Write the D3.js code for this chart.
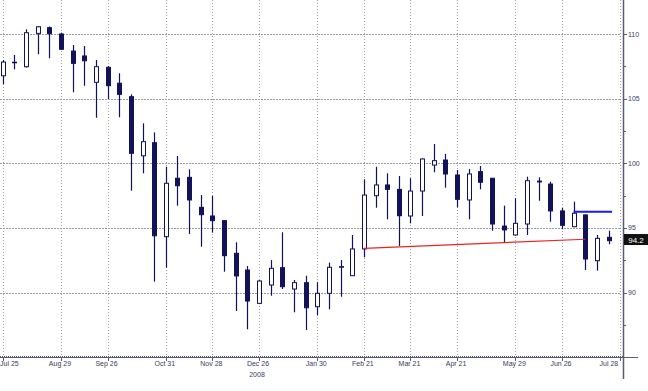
<!DOCTYPE html>
<html><head><meta charset="utf-8">
<script src="https://cdn.jsdelivr.net/npm/d3@7"></script>
<style>body{margin:0;background:#fff}svg{display:block}</style>
</head><body><svg id="c" width="648" height="391"></svg>
<script>
const opens  = [106.77,107.80,107.47,110.05,110.49,110.00,108.68,108.30,106.26,107.42,106.19,105.15,100.58,101.59,94.32,98.84,98.91,96.59,95.92,95.56,93.03,91.74,89.16,90.58,91.92,90.27,90.76,88.90,89.94,91.98,91.30,93.37,97.49,98.32,97.98,95.92,97.85,99.86,100.25,99.09,97.16,99.35,98.84,95.14,94.45,95.30,98.62,98.39,96.31,95.09,96.00,92.46,94.27];
const highs  = [107.99,108.38,110.36,110.62,110.58,110.10,109.15,109.07,107.99,107.52,106.96,105.33,103.09,102.39,99.73,100.56,99.53,97.54,97.47,95.60,93.88,92.05,90.97,92.51,94.66,90.97,91.30,90.79,92.31,92.51,94.45,98.76,99.73,99.22,99.01,98.84,100.38,101.49,100.72,99.48,99.56,99.79,98.86,96.72,97.29,98.96,98.91,98.57,96.54,97.03,96.05,94.45,94.78];
const lows   = [106.11,107.27,107.40,108.43,108.12,108.76,105.49,106.00,103.52,104.97,103.56,97.88,99.22,90.84,91.92,96.72,94.53,93.54,94.63,91.61,88.57,87.15,89.10,89.75,90.27,88.47,87.10,88.26,88.70,89.67,91.30,92.72,96.56,95.66,93.60,95.35,95.92,99.30,98.11,96.59,95.66,97.98,94.78,93.88,94.40,94.45,97.10,95.48,94.89,95.05,91.74,91.69,93.73];
const closes = [107.83,107.82,110.10,110.56,110.02,108.82,107.73,107.93,107.47,106.00,105.33,100.77,101.67,94.39,98.45,98.26,97.16,96.02,95.56,92.85,91.28,89.34,90.89,91.87,90.45,90.76,88.82,89.94,91.95,92.00,93.37,97.54,98.32,97.98,95.94,97.85,100.33,100.20,99.17,97.21,99.17,98.53,95.30,94.84,95.35,98.65,98.55,96.31,95.20,96.13,92.59,94.19,94.01];
const xTickLabels = ["Jul 25","Aug 29","Sep 26","Oct 31","Nov 28","Dec 26","Jan 30","Feb 21","Mar 21","Apr 21","May 29","Jun 26","Jul 28"];
const xTickIndex  = [0,5,9,14,18,22,27,31,35,39,44,48,53];
const yTicks = [90,95,100,105,110];
const yMinorTicks = [87.5,92.5,97.5,102.5,107.5];
const yearLabel = "2008";
const supportLine = [[31,93.42],[50,94.12]];
const resistLine = [[49,96.25],[52.3,96.25]];
const lastPrice = 94.06, lastLabel = "94.2";

const svg = d3.select("#c");
const x = d3.scaleLinear().domain([0,53]).range([2.7,620.2]);
const y = d3.scaleLinear().domain([90,110]).range([292.5,34]);
const axisX = 623, baseY = 357;
const navy = "#12125a", grey = "#9a9aa6", axisCol = "#5a5a78", txt = "#3a3a60";

// horizontal grid
svg.append("g").selectAll("line").data(yTicks).join("line")
  .attr("x1",0).attr("x2",axisX-2).attr("y1",d=>Math.round(y(d))+0.5).attr("y2",d=>Math.round(y(d))+0.5)
  .attr("stroke",grey).attr("stroke-width",1).attr("stroke-dasharray","2,1");
// vertical grid
svg.append("g").selectAll("line").data(xTickIndex).join("line")
  .attr("x1",d=>Math.round(x(d))+0.5).attr("x2",d=>Math.round(x(d))+0.5).attr("y1",0).attr("y2",baseY)
  .attr("stroke",grey).attr("stroke-width",1).attr("stroke-dasharray","1,2");

// bottom axis
svg.append("line").attr("x1",0).attr("x2",axisX+15).attr("y1",baseY+0.5).attr("y2",baseY+0.5)
  .attr("stroke",axisCol).attr("stroke-width",1);
svg.append("line").attr("x1",0).attr("x2",axisX).attr("y1",baseY-0.5).attr("y2",baseY-0.5)
  .attr("stroke",axisCol).attr("stroke-width",1).attr("stroke-dasharray","1,1");
svg.append("g").selectAll("line").data(xTickIndex).join("line")
  .attr("x1",d=>Math.round(x(d))+0.5).attr("x2",d=>Math.round(x(d))+0.5).attr("y1",baseY).attr("y2",baseY+4)
  .attr("stroke",axisCol);
svg.append("g").selectAll("text").data(xTickIndex).join("text")
  .attr("x",(d,i)=> i===0 ? 0 : (i===xTickIndex.length-1 ? x(d)-2 : x(d)-1))
  .attr("y",baseY+9)
  .attr("text-anchor",(d,i)=> i===0 ? "start" : (i===xTickIndex.length-1 ? "end" : "middle"))
  .attr("font-family","Liberation Sans, Arial, sans-serif").attr("font-size",7).attr("fill",txt)
  .text((d,i)=>xTickLabels[i]);
svg.append("text").attr("x",x(22)-2).attr("y",baseY+20).attr("text-anchor","middle")
  .attr("font-family","Liberation Sans, Arial, sans-serif").attr("font-size",7).attr("fill",txt).text(yearLabel);

// right axis
svg.append("line").attr("x1",axisX+0.5).attr("x2",axisX+0.5).attr("y1",0).attr("y2",379)
  .attr("stroke",axisCol).attr("stroke-width",1.5);
svg.append("g").selectAll("line").data(yTicks).join("line")
  .attr("x1",axisX).attr("x2",axisX+4).attr("y1",d=>Math.round(y(d))+0.5).attr("y2",d=>Math.round(y(d))+0.5)
  .attr("stroke",axisCol);
svg.append("g").selectAll("line").data(yMinorTicks).join("line")
  .attr("x1",axisX).attr("x2",axisX+3).attr("y1",d=>Math.round(y(d))+0.5).attr("y2",d=>Math.round(y(d))+0.5)
  .attr("stroke",axisCol);
svg.append("g").selectAll("text").data(yTicks).join("text")
  .attr("x",axisX+5).attr("y",d=>y(d)+2.5)
  .attr("font-family","Liberation Sans, Arial, sans-serif").attr("font-size",7).attr("fill",txt)
  .text(d=>d);

// candles
const idx = d3.range(opens.length);
const g = svg.append("g");
g.selectAll("line.w").data(idx).join("line").attr("class","w")
  .attr("x1",i=>Math.round(x(i))+0.5).attr("x2",i=>Math.round(x(i))+0.5)
  .attr("y1",i=>y(highs[i])).attr("y2",i=>y(lows[i]))
  .attr("stroke",navy).attr("stroke-width",1.2);
g.selectAll("rect").data(idx).join("rect")
  .attr("x",i=>Math.round(x(i))-2+0.5).attr("width",4)
  .attr("y",i=>y(Math.max(opens[i],closes[i])))
  .attr("height",i=>Math.max(0.6, Math.abs(y(opens[i])-y(closes[i]))))
  .attr("fill",i=>closes[i]>=opens[i] ? "#fff" : navy)
  .attr("stroke",navy).attr("stroke-width",1);

// trend lines
const line = d3.line().x(d=>x(d[0])).y(d=>y(d[1]));
svg.append("path").attr("d",line(supportLine)).attr("stroke","#ee2222").attr("stroke-width",1.2).attr("fill","none");
svg.append("path").attr("d",line(resistLine)).attr("stroke","#1a1aee").attr("stroke-width",2).attr("fill","none");

// last price label
svg.append("rect").attr("x",axisX+1).attr("y",y(lastPrice)-6).attr("width",24).attr("height",11).attr("fill","#111");
svg.append("text").attr("x",axisX+13).attr("y",y(lastPrice)+2.5).attr("text-anchor","middle")
  .attr("font-family","Liberation Sans, Arial, sans-serif").attr("font-size",8).attr("fill","#fff").text(lastLabel);
</script></body></html>
